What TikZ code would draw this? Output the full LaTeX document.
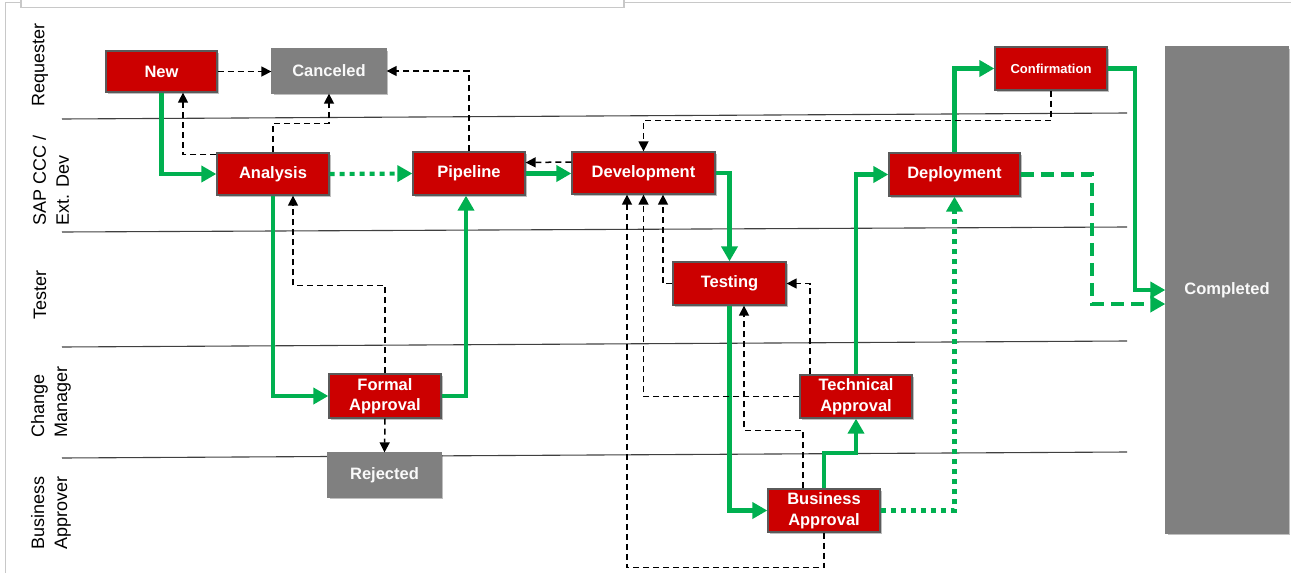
\documentclass[tikz,border=0pt]{standalone}
\usepackage{fontspec}
\setmainfont{Liberation Sans}
\usetikzlibrary{arrows.meta,shadows,calc}
\definecolor{sapred}{HTML}{CC0000}
\definecolor{sapgray}{HTML}{808080}
\definecolor{sapgreen}{HTML}{00B050}
\definecolor{boxedge}{HTML}{5A5A5A}
\definecolor{framegray}{HTML}{C8C8C8}
\tikzset{
  redbox/.style={draw=boxedge, line width=1.3pt, fill=sapred, text=white, align=center, inner sep=0pt,
    font=\bfseries\fontsize{16.5}{20.5}\selectfont,
    drop shadow={shadow xshift=2pt, shadow yshift=-2pt, opacity=0.25, fill=black}},
  graybox/.style={redbox, fill=sapgray, draw=sapgray, text=white!95!gray},
  lanelabel/.style={rotate=90, align=left, inner sep=0pt, font=\fontsize{18}{23}\selectfont},
  laneline/.style={draw=black!75, line width=1.1pt},
  gline/.style={draw=sapgreen, line width=4.2pt, -{Triangle[length=15pt,width=16pt]}},
  gdot/.style={gline, dash pattern=on 5pt off 5pt},
  gdash/.style={gline, dash pattern=on 13pt off 7pt},
  bline/.style={draw=black, line width=1.5pt, dash pattern=on 6pt off 4pt, -{Triangle[length=10pt,width=10pt]}},
}
\begin{document}
\begin{tikzpicture}[x=1pt, y=-1pt]
\useasboundingbox (0,0) rectangle (1291,573);
% frame
\draw[framegray, line width=1.6pt] (5.5,573) -- (5.5,2.5) -- (21,2.5);
\draw[framegray, line width=1.6pt] (624,2.5) -- (1291,2.5);
\draw[framegray, line width=1.6pt] (21,0) -- (21,7.5) -- (624,7.5) -- (624,0);
% lane lines
\draw[laneline] (62,119) -- (1127,113);
\draw[laneline] (62,232) -- (1127,227);
\draw[laneline] (62,347) -- (1127,341);
\draw[laneline] (62,458) -- (1127,452);
% lane labels
\node[lanelabel] (l1) at (40,65) {Requester};
\node[lanelabel] (l2) at (51,180) {SAP CCC /\\Ext. Dev};
\node[lanelabel] (l3) at (40,295) {Tester};
\node[lanelabel] (l4) at (51,402) {Change\\Manager};
\node[lanelabel] (l5) at (51,513) {Business\\Approver};
% nodes
\node[redbox, minimum width=111pt, minimum height=41pt] (new) at (161.5,71.5) {New};
\node[graybox, minimum width=114pt, minimum height=44pt] (canceled) at (329,71) {Canceled};
\node[redbox, minimum width=112pt, minimum height=42pt] (analysis) at (273,174) {Analysis};
\node[redbox, minimum width=112pt, minimum height=43pt] (pipeline) at (469,173.5) {Pipeline};
\node[redbox, minimum width=143pt, minimum height=42pt] (dev) at (643.5,173) {Development};
\node[redbox, minimum width=113pt, minimum height=43pt] (testing) at (729.5,283.5) {Testing};
\node[redbox, minimum width=112pt, minimum height=43pt] (tech) at (856,396.5) {Technical\\Approval};
\node[redbox, minimum width=112pt, minimum height=44pt] (formal) at (385,396) {Formal\\Approval};
\node[graybox, minimum width=113pt, minimum height=44pt] (rejected) at (384.5,475) {Rejected};
\node[redbox, minimum width=112pt, minimum height=43pt] (business) at (824,510.5) {Business\\Approval};
\node[redbox, minimum width=131pt, minimum height=43pt] (deploy) at (954.5,174.5) {Deployment};
\node[redbox, minimum width=112pt, minimum height=43pt, font=\bfseries\fontsize{13}{16}\selectfont] (confirm) at (1051,68.5) {Confirmation};
\node[graybox, minimum width=122pt, minimum height=486pt] (completed) at (1227,290) {Completed};
% green flow
\draw[gline] (new.south) |- (analysis.west);
\draw[gdot] (analysis.east) -- (pipeline.west);
\draw[gline] (pipeline.east) -- (dev.west |- pipeline.east);
\draw[gline] (dev.east) -| (testing.north);
\draw[gline] (analysis.south) |- (formal.west);
\draw[gline] (formal.east) -| ([xshift=-3pt]pipeline.south);
\draw[gline] (testing.south) |- (business.west);
\draw[gline] (business.north) |- ([yshift=-34pt]tech.south) -- (tech.south);
\draw[gline] (tech.north) |- (deploy.west);
\draw[gdot] (business.east) -| (deploy.south);
\draw[gline] (deploy.north) |- (confirm.west);
\draw[gline] (confirm.east) -| ([xshift=-30pt]completed.west) -- (completed.west);
\draw[gdash] (deploy.east) -| ([xshift=-73pt, yshift=-14pt]completed.west) -- ([yshift=-14pt]completed.west);
% black dashed returns
\draw[bline] (new.east) -- (canceled.west |- new.east);
\draw[bline] (pipeline.north) |- (canceled.east);
\draw[bline] ([yshift=-2pt]analysis.north west) -| ([xshift=21.5pt]new.south);
\draw[bline] (analysis.north) |- ([yshift=-30pt]canceled.south) -- (canceled.south);
\draw[bline] (formal.north) |- ([xshift=20pt, yshift=-90pt]analysis.south) -- ([xshift=20pt]analysis.south);
\draw[bline] (formal.south) -- (rejected.north);
\draw[bline] ([yshift=11pt]dev.west) -- ([yshift=11pt]pipeline.east);
\draw[bline] (confirm.south) |- ([yshift=31pt]dev.north) -- (dev.north);
\draw[bline] (testing.west) -| ([xshift=19.5pt]dev.south);
\draw[bline] (tech.west) -| (dev.south);
\draw[bline] (business.south) -- ++(0,35) -| ([xshift=-16.5pt]dev.south);
\draw[bline] ([xshift=-46pt]tech.north) |- (testing.east);
\draw[bline] ([xshift=-21pt]business.north) |- ([xshift=14.5pt, yshift=-125pt]testing.south) -- ([xshift=14.5pt]testing.south);
\end{tikzpicture}
\end{document}
